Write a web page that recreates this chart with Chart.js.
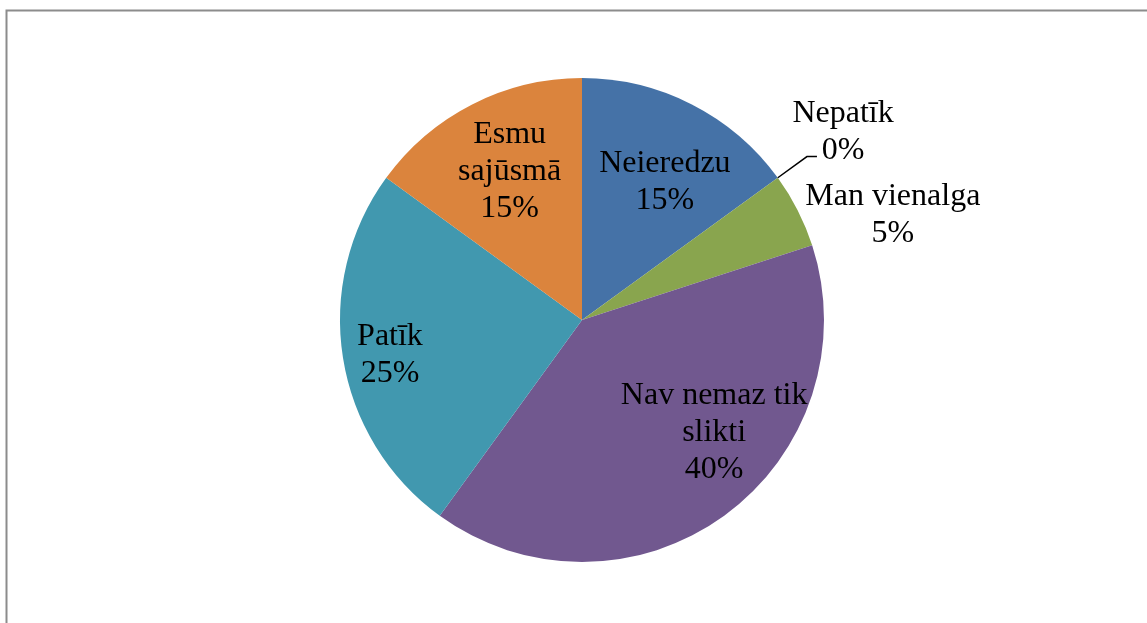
<!DOCTYPE html>
<html>
<head>
<meta charset="utf-8">
<script src="https://cdn.jsdelivr.net/npm/chart.js@4"></script>
<style>
html,body{margin:0;padding:0;background:#fff;}
#wrap{position:relative;width:1147px;height:623px;}
</style>
</head>
<body>
<div id="wrap"><canvas id="c" width="1147" height="623"></canvas></div>
<script>
const categories = ["Neieredzu", "Nepatīk", "Man vienalga", "Nav nemaz tik slikti", "Patīk", "Esmu sajūsmā"];
const values = [15, 0, 5, 40, 25, 15];
const colors = ["#4572A7", "#AA4643", "#89A54E", "#71588F", "#4198AF", "#DB843D"];
// label text lines
const labelLines = [["Neieredzu", "15%"], ["Nepatīk", "0%"], ["Man vienalga", "5%"], ["Nav nemaz tik", "slikti", "40%"], ["Patīk", "25%"], ["Esmu", "sajūsmā", "15%"]];
// label placement: [angle deg clockwise from top, radius fraction]
const labelPlace = [[31, 0.665], [54.2, 1.33], [71.3, 1.356], [130.4, 0.717], [259.5, 0.807], [334, 0.682]];

const labelPlugin = {
  id: 'labels',
  beforeDraw(chart) {
    const ctx = chart.ctx;
    ctx.save();
    ctx.strokeStyle = '#8c8c8c';
    ctx.lineWidth = 2;
    ctx.beginPath();
    ctx.moveTo(6.5, 623);
    ctx.lineTo(6.5, 10.5);
    ctx.lineTo(1147, 10.5);
    ctx.stroke();
    ctx.restore();
  },
  afterDatasetsDraw(chart) {
    const ctx = chart.ctx;
    const meta = chart.getDatasetMeta(0);
    const arc0 = meta.data[0];
    const cx = arc0.x, cy = arc0.y, R = arc0.outerRadius;
    ctx.save();
    ctx.fillStyle = '#000';
    ctx.font = '32px "Liberation Serif", "Times New Roman", serif';
    ctx.textAlign = 'center';
    ctx.textBaseline = 'middle';
    const lh = 37;
    labelLines.forEach((lines, i) => {
      const a = labelPlace[i][0] * Math.PI / 180;
      const r = labelPlace[i][1] * R;
      const x = cx + r * Math.sin(a);
      const y = cy - r * Math.cos(a);
      const y0 = y - (lines.length - 1) * lh / 2;
      lines.forEach((t, k) => ctx.fillText(t, x, y0 + k * lh));
    });
    // leader line for zero slice
    const z = meta.data[1];
    const za = z.startAngle + Math.PI / 2;
    const ex = cx + R * Math.sin(za), ey = cy - R * Math.cos(za);
    const mx = cx + 1.149 * R * Math.sin(za), my = cy - 1.149 * R * Math.cos(za);
    ctx.strokeStyle = '#000';
    ctx.lineWidth = 1.5;
    ctx.beginPath();
    ctx.moveTo(ex, ey);
    ctx.lineTo(mx, my);
    ctx.lineTo(mx + 10, my);
    ctx.stroke();
    ctx.restore();
  }
};

new Chart(document.getElementById('c'), {
  type: 'pie',
  data: {
    labels: categories,
    datasets: [{
      data: values,
      backgroundColor: colors,
      borderWidth: 0,
      hoverOffset: 0,
      offset: 0
    }]
  },
  options: {
    responsive: false,
    animation: false,
    events: [],
    layout: { padding: { left: 340, right: 323, top: 78, bottom: 61 } },
    plugins: { legend: { display: false }, tooltip: { enabled: false } }
  },
  plugins: [labelPlugin]
});
</script>
</body>
</html>
